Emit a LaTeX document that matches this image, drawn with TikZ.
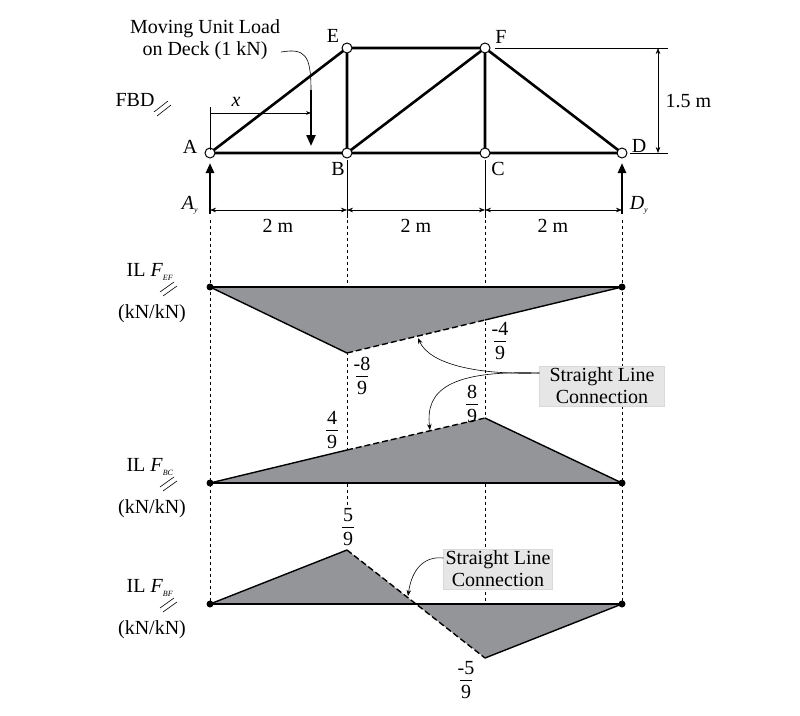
\documentclass[tikz,border=0pt]{standalone}
\usepackage{fontspec}
\setmainfont{Liberation Serif}
\usetikzlibrary{arrows.meta}
\definecolor{ilgray}{HTML}{939598}
\definecolor{boxgray}{HTML}{E6E6E7}
\newcommand{\myfrac}[2]{\shortstack[c]{#1\\[2pt]\rule{0.6em}{0.7pt}\\[2pt]#2}}
\begin{document}
\begin{tikzpicture}[x=1pt,y=-1pt,font=\fontsize{20}{22}\selectfont,
  member/.style={line width=2.6pt},
  joint/.style={circle,draw,fill=white,line width=1pt,minimum size=10pt,inner sep=0pt},
  dimln/.style={line width=0.5pt,{Stealth[length=6pt]}-{Stealth[length=6pt]}},
  guide/.style={dashed,line width=0.6pt},
  base/.style={line width=2.8pt},
  ilsolid/.style={line width=1.4pt},
  ildash/.style={line width=1.4pt,dash pattern=on 6pt off 3pt},
  dotpt/.style={circle,fill,inner sep=0pt,minimum size=7pt},
  callbox/.style={fill=boxgray,draw=black!15,align=center,inner sep=2pt},
  lead/.style={line width=0.6pt,-{Stealth[length=6pt]}},
  react/.style={line width=2.6pt,-{Triangle[length=10pt,width=8pt]}},
  frac/.style={inner sep=1pt}]
\useasboundingbox (0,0) rectangle (800,715);
% truss
\coordinate (A) at (210,153); \coordinate (B) at (347,153);
\coordinate (C) at (485,153); \coordinate (D) at (622,153);
\coordinate (E) at (347,48); \coordinate (F) at (485,48);
\draw[member] (A)--(D) (A)--(E)--(F)--(D) (E)--(B)--(F)--(C);
\foreach \p in {A,B,C,D,E,F} \node[joint] (j\p) at (\p) {};
\node at (190,147) {A};
\node at (338,169) {B};
\node at (498,169) {C};
\node at (639,146) {D};
\node at (333,36) {E};
\node at (501,37) {F};
% 1.5 m
\draw[line width=0.5pt] (495,48)--(668,48) (630,153)--(668,153);
\coordinate (h1) at (658,48); \coordinate (h2) at (658,153);
\draw[dimln] (h1)--(h2);
\node[right] at (662,101) {1.5 m};
% moving load
\node[align=center,inner sep=1pt] (ml) at (205,40) {Moving Unit Load\\on Deck (1 kN)};
\coordinate (lt) at (311,90); \coordinate (lb) at (311,146);
\draw[line width=0.6pt] (ml.east |- 0,52) .. controls (305,48) and (311,55) .. (lt);
\draw[line width=2.2pt,-{Triangle[length=11pt,width=9pt]}] (lt)--(lb);
\draw[line width=0.5pt] (210,107)--(210,150);
\coordinate (x1) at (210,113); \coordinate (x2) at (311,113);
\draw[line width=0.5pt,-{Stealth[length=5pt]}] (x1)--(x2);
\node at (236,102) {\itshape x};
\node (fbd) at (135,100) {FBD};
\draw[line width=0.6pt] (154,112)--(168,101) (157,116)--(171,105);
% reactions
\coordinate (ay1) at (210,214); \coordinate (ay2) at (210,163);
\draw[react] (ay1)--(ay2);
\coordinate (dy1) at (622,214); \coordinate (dy2) at (622,163);
\draw[react] (dy1)--(dy2);
\node at (190,205) {\itshape A\textsubscript{\footnotesize y}};
\node at (639,205) {\itshape D\textsubscript{\footnotesize y}};
% dimension row
\draw[line width=0.5pt] (347,160)--(347,218) (485,160)--(485,218);
\coordinate (d1) at (210,210); \coordinate (d2) at (347,210);
\coordinate (d3) at (485,210); \coordinate (d4) at (622,210);
\draw[dimln] (d1)--(d2); \draw[dimln] (d2)--(d3); \draw[dimln] (d3)--(d4);
\node at (278,226) {2 m}; \node at (416,226) {2 m}; \node at (553,226) {2 m};
% guides
\draw[guide] (210,220)--(210,604) (347,220)--(347,604) (485,220)--(485,658) (622,220)--(622,604);
% IL F_EF
\fill[ilgray] (210,287)--(347,353)--(485,320)--(622,287)--cycle;
\draw[ilsolid] (210,287)--(347,353); \draw[ildash] (347,353)--(485,320); \draw[ilsolid] (485,320)--(622,287);
\draw[base] (210,287)--(622,287);
\node[dotpt] at (210,287) {}; \node[dotpt] at (622,287) {};
\node[frac] at (362,376) {\myfrac{-8}{9}};
\node[frac] at (500,341) {\myfrac{-4}{9}};
% IL F_BC
\fill[ilgray] (210,483)--(347,450)--(485,418)--(622,483)--cycle;
\draw[ilsolid] (210,483)--(347,450); \draw[ildash] (347,450)--(485,418); \draw[ilsolid] (485,418)--(622,483);
\draw[base] (210,483)--(622,483);
\node[dotpt] at (210,483) {}; \node[dotpt] at (622,483) {};
\node[frac] at (332,430) {\myfrac{4}{9}};
\node[frac] at (472,404) {\myfrac{8}{9}};
% IL F_BF
\fill[ilgray] (210,604)--(347,550)--(416,604)--cycle;
\fill[ilgray] (416,604)--(485,658)--(622,604)--cycle;
\draw[ilsolid] (210,604)--(347,550); \draw[ildash] (347,550)--(485,658); \draw[ilsolid] (485,658)--(622,604);
\draw[base] (210,604)--(622,604);
\node[dotpt] at (210,604) {}; \node[dotpt] at (622,604) {};
\node[frac,fill=white] at (348,527) {\myfrac{5}{9}};
\node[frac] at (466,680) {\myfrac{-5}{9}};
% left labels
\foreach \y/\s in {272/EF,467/BC,588/BF}{
  \node at (150,\y) {IL \textit{F}\textsubscript{\fontsize{8}{8}\selectfont\itshape \s}};
  \draw[line width=0.6pt] (160,\y+20)--(174,\y+10) (163,\y+24)--(177,\y+14);
  \node at (152,\y+42) {(kN/kN)};
}
% callouts
\node[callbox,minimum width=125pt] (cb1) at (602,386) {Straight Line\\Connection};
\coordinate (t1) at (418,338); \coordinate (t2) at (430,430);
\draw[lead] (cb1.west |- 0,373) .. controls (480,375) and (430,365) .. (t1);
\draw[lead] (cb1.west |- 0,373) .. controls (450,370) and (425,390) .. (t2);
\node[callbox] (cb2) at (498,569) {Straight Line\\Connection};
\coordinate (t3) at (408,596);
\draw[lead] (cb2.west |- 0,558) .. controls (425,556) and (412,568) .. (t3);
\end{tikzpicture}
\end{document}
